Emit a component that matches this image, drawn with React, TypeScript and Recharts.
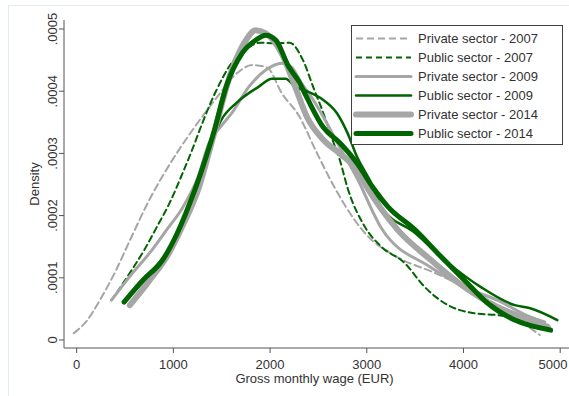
import { LineChart, Line, XAxis, YAxis, Legend, Label } from 'recharts';

const xTicks = [0, 1000, 2000, 3000, 4000, 5000];
const xTickLabels = ['0', '1000', '2000', '3000', '4000', '5000'];
const yTicks = [0, 0.0001, 0.0002, 0.0003, 0.0004, 0.0005];
const yTickLabels = ['0', '.0001', '.0002', '.0003', '.0004', '.0005'];

// wage in EUR, density in units of 1e-4
const privateWage2007 = [-30, 100, 240, 400, 550, 750, 960, 1200, 1450, 1650, 1820, 1970, 2120, 2300, 2480, 2650, 2780, 2980, 3320, 3700, 4010, 4350, 4600, 4790];
const privateDens2007 = [0.11, 0.3, 0.64, 1.1, 1.6, 2.25, 2.82, 3.38, 3.9, 4.28, 4.42, 4.38, 3.97, 3.6, 3.02, 2.5, 2.15, 1.72, 1.33, 1.08, 0.85, 0.48, 0.28, 0.08];

const publicWage2007 = [360, 580, 700, 830, 960, 1100, 1200, 1290, 1440, 1600, 1750, 1900, 2050, 2200, 2340, 2450, 2550, 2650, 2720, 2800, 2980, 3150, 3390, 3600, 3840, 4110, 4350, 4630, 4920];
const publicDens2007 = [0.64, 1.15, 1.45, 1.82, 2.2, 2.7, 3.08, 3.45, 4.0, 4.45, 4.68, 4.78, 4.77, 4.78, 4.5, 4.05, 3.65, 3.2, 2.9, 2.45, 1.82, 1.5, 1.24, 0.85, 0.56, 0.43, 0.4, 0.32, 0.13];

const privateWage2009 = [360, 580, 755, 930, 1100, 1250, 1370, 1500, 1605, 1780, 1955, 2120, 2220, 2325, 2450, 2550, 2720, 2900, 3150, 3660, 4010, 4350, 4690, 4840];
const privateDens2009 = [0.64, 1.08, 1.4, 1.77, 2.14, 2.6, 3.17, 3.45, 3.65, 4.07, 4.34, 4.45, 4.39, 4.13, 3.85, 3.59, 3.1, 2.6, 1.8, 1.17, 0.85, 0.64, 0.37, 0.29];

const publicWage2009 = [490, 685, 890, 1035, 1170, 1370, 1500, 1650, 1880, 2020, 2160, 2260, 2380, 2550, 2690, 2800, 2900, 3030, 3150, 3500, 3840, 4180, 4530, 4690, 4970];
const publicDens2009 = [0.61, 0.96, 1.29, 1.66, 2.2, 3.1, 3.55, 3.81, 4.07, 4.2, 4.2, 4.07, 4.0, 3.86, 3.65, 3.33, 2.94, 2.57, 2.14, 1.72, 1.24, 0.85, 0.56, 0.51, 0.32];

const privateWage2014 = [550, 750, 955, 1090, 1265, 1400, 1605, 1750, 1850, 1955, 2120, 2260, 2380, 2550, 2720, 2900, 3000, 3320, 3660, 4010, 4350, 4690, 4870];
const privateDens2014 = [0.56, 0.95, 1.4, 1.82, 2.46, 3.2, 4.34, 4.82, 4.98, 4.93, 4.61, 4.07, 3.59, 3.22, 3.0, 2.73, 2.46, 1.77, 1.29, 0.85, 0.53, 0.32, 0.21];

const publicWage2014 = [490, 685, 890, 1035, 1170, 1265, 1370, 1420, 1545, 1710, 1850, 1955, 2060, 2190, 2300, 2380, 2550, 2720, 2900, 3060, 3220, 3500, 3730, 4010, 4250, 4530, 4900];
const publicDens2014 = [0.61, 0.96, 1.29, 1.7, 2.2, 2.6, 3.1, 3.35, 4.07, 4.61, 4.82, 4.9, 4.82, 4.4, 4.15, 3.9, 3.42, 3.17, 2.84, 2.46, 2.14, 1.77, 1.4, 0.96, 0.59, 0.32, 0.16];

const GRAY = '#a6a6a6';
const GREEN = '#006400';
const FONT = '"Liberation Sans", Arial, sans-serif';
const TEXT = '#333';

const toPoints = (w: number[], d: number[]) => w.map((x, i) => ({ wage: x, density: d[i] / 1e4 }));

const series = [
  { name: 'Private sector - 2007', data: toPoints(privateWage2007, privateDens2007), color: GRAY, width: 2, dash: '7 4' },
  { name: 'Public sector - 2007', data: toPoints(publicWage2007, publicDens2007), color: GREEN, width: 2, dash: '6 4' },
  { name: 'Private sector - 2009', data: toPoints(privateWage2009, privateDens2009), color: GRAY, width: 3, dash: undefined },
  { name: 'Public sector - 2009', data: toPoints(publicWage2009, publicDens2009), color: GREEN, width: 2.5, dash: undefined },
  { name: 'Private sector - 2014', data: toPoints(privateWage2014, privateDens2014), color: GRAY, width: 6, dash: undefined },
  { name: 'Public sector - 2014', data: toPoints(publicWage2014, publicDens2014), color: GREEN, width: 5, dash: undefined },
];

function XTick({ x, y, payload }: any) {
  const i = xTicks.indexOf(payload.value);
  return (
    <text x={x} y={y + 14} textAnchor="middle" fontSize={13} fontFamily={FONT} fill={TEXT}>
      {i >= 0 ? xTickLabels[i] : payload.value}
    </text>
  );
}

function YTick({ x, y, payload }: any) {
  const i = yTicks.indexOf(payload.value);
  return (
    <text x={x} y={y} transform={`rotate(-90, ${x}, ${y})`} textAnchor="middle" fontSize={13} fontFamily={FONT} fill={TEXT}>
      {i >= 0 ? yTickLabels[i] : payload.value}
    </text>
  );
}

const densityLabel = ({ viewBox }: any) => {
  const x = viewBox.x + 30.5;
  const y = viewBox.y + viewBox.height / 2;
  return (
    <text x={x} y={y} transform={`rotate(-90, ${x}, ${y})`} textAnchor="middle" fontSize={13} fontFamily={FONT} fill={TEXT}>
      Density
    </text>
  );
};

const wageLabel = ({ viewBox }: any) => (
  <text x={viewBox.x + viewBox.width / 2 - 2} y={viewBox.y + 35} textAnchor="middle" fontSize={13} fontFamily={FONT} fill={TEXT}>
    Gross monthly wage (EUR)
  </text>
);

function LegendBox() {
  return (
    <div
      style={{
        border: '1px solid #404040',
        background: '#fff',
        padding: '3px 0 1px 0',
        width: 210,
        boxSizing: 'content-box',
        fontFamily: FONT,
        fontSize: 13,
        color: TEXT,
      }}
    >
      {series.map((s) => (
        <div key={s.name} style={{ display: 'flex', alignItems: 'center', height: 19 }}>
          <svg width={64} height={19} style={{ display: 'block', flex: 'none' }}>
            <line
              x1={4}
              x2={59}
              y1={9.5}
              y2={9.5}
              stroke={s.color}
              strokeWidth={s.width}
              strokeDasharray={s.dash}
              strokeLinecap={s.dash ? 'butt' : 'round'}
            />
          </svg>
          <span style={{ marginLeft: 2, whiteSpace: 'nowrap', lineHeight: '19px' }}>{s.name}</span>
        </div>
      ))}
    </div>
  );
}

export default function App() {
  return (
    <div style={{ position: 'absolute', left: 0, top: 0, width: 569, height: 396, background: '#fff', overflow: 'hidden' }}>
      <div
        style={{
          position: 'absolute',
          left: 8,
          top: 5,
          width: 600,
          height: 420,
          borderLeft: '1px solid #e3ecee',
          borderTop: '1px solid #e3ecee',
        }}
      />
      <div style={{ position: 'absolute', left: 0, top: 0 }}>
        <LineChart width={569} height={396} margin={{ top: 20, right: 0, bottom: 0, left: 8 }}>
          <XAxis
            type="number"
            dataKey="wage"
            domain={[-131, 5091]}
            allowDataOverflow
            ticks={xTicks}
            tick={<XTick />}
            tickSize={5}
            height={48}
            stroke="#555"
            tickLine={{ stroke: '#555' }}
          >
            <Label content={wageLabel} />
          </XAxis>
          <YAxis
            type="number"
            dataKey="density"
            domain={[-0.0000129, 0.0005145]}
            allowDataOverflow
            ticks={yTicks}
            tick={<YTick />}
            tickSize={5}
            width={56}
            stroke="#555"
            tickLine={{ stroke: '#555' }}
          >
            <Label content={densityLabel} />
          </YAxis>
          {series.map((s) => (
            <Line
              key={s.name}
              data={s.data}
              dataKey="density"
              name={s.name}
              type="monotone"
              stroke={s.color}
              strokeWidth={s.width}
              strokeDasharray={s.dash}
              strokeLinecap="round"
              strokeLinejoin="round"
              dot={false}
              activeDot={false}
              isAnimationActive={false}
            />
          ))}
          <Legend
            layout="vertical"
            align="center"
            verticalAlign="middle"
            content={<LegendBox />}
            wrapperStyle={{ position: 'absolute', left: 351, top: 25, width: 212, height: 120, margin: 0 }}
          />
        </LineChart>
      </div>
    </div>
  );
}
